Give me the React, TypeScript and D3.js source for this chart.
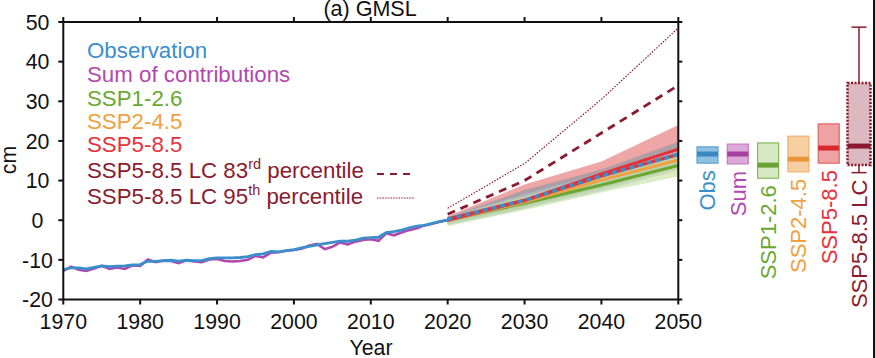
import React from "react";
import * as d3 from "d3";

// ---------- data ----------
const obsYears = d3.range(1970, 2021);
const obsValues = [
  -12.5, -12.0, -12.0, -12.3, -11.9, -11.5, -11.7, -11.6, -11.5, -11.3,
  -11.2, -10.3, -10.4, -10.2, -10.1, -10.3, -10.1, -10.2, -10.2, -9.7,
  -9.5, -9.5, -9.5, -9.4, -9.2, -8.7, -8.5, -7.9, -8.0, -7.7,
  -7.4, -7.0, -6.6, -6.2, -5.9, -5.6, -5.3, -5.3, -5.0, -4.5,
  -4.4, -4.3, -3.1, -2.9, -2.5, -1.9, -1.5, -1.3, -0.8, -0.3, 0.0,
];
const sumValues = [
  -12.8, -11.7, -12.5, -12.8, -12.2, -11.5, -12.3, -11.9, -12.3, -11.4,
  -11.5, -9.9, -10.6, -10.2, -10.3, -10.8, -10.1, -10.4, -10.6, -9.9,
  -9.8, -10.3, -10.4, -10.3, -10.0, -9.0, -9.4, -8.2, -8.1, -7.7,
  -7.5, -7.2, -6.4, -6.0, -7.3, -6.7, -5.6, -6.1, -5.4, -5.0,
  -4.8, -5.2, -3.3, -3.8, -3.1, -2.5, -2.0, -1.3, -0.9, -0.4, 0.0,
];

const projYears = [2020, 2030, 2040, 2050];
const ssp585Low = [-0.8, 3.5, 8.0, 13.5];
const ssp585High = [1.0, 9.0, 14.8, 24.0];
const ssp585Mid = [0.0, 5.0, 11.7, 17.9];
const sumBandLow = [-0.8, 3.2, 8.2, 13.5];
const sumBandHigh = [0.8, 7.6, 12.8, 19.8];
const obsBandLow = [-1.3, 2.8, 7.3, 12.7];
const obsBandHigh = [0.8, 6.6, 12.0, 18.4];
const ssp245Low = [-1.0, 3.0, 7.8, 12.4];
const ssp245High = [0.8, 6.4, 11.8, 17.8];
const ssp245Mid = [0.0, 4.6, 10.1, 15.2];
const ssp126Low = [-1.5, 2.6, 7.0, 11.0];
const ssp126High = [0.8, 6.0, 11.0, 16.5];
const ssp126Mid = [0.0, 4.3, 8.9, 13.8];
const trendMid = [0.3, 5.0, 11.2, 16.6];
const lc83 = [1.5, 10.0, 22.0, 34.0];
const lc95 = [3.0, 14.3, 30.5, 48.5];

const xTickValues = [1970, 1980, 1990, 2000, 2010, 2020, 2030, 2040, 2050];
const yTickValues = [-20, -10, 0, 10, 20, 30, 40, 50];

const boxLabels = ["Obs", "Sum", "SSP1-2.6", "SSP2-4.5", "SSP5-8.5", "SSP5-8.5 LC"];
const boxLow = [14.4, 14.2, 10.6, 12.2, 14.4, 13.9];
const boxHigh = [18.5, 19.2, 19.5, 21.2, 24.3, 34.6];
const boxMid = [16.7, 16.7, 13.9, 15.4, 18.2, 18.7];
const lcWhiskerLow = 12.0;
const lcWhiskerHigh = 48.7;

const legendLabels = ["Observation", "Sum of contributions", "SSP1-2.6", "SSP2-4.5", "SSP5-8.5"];

// ---------- styles ----------
const C = {
  obs: "#3a8fcb",
  sum: "#b347b0",
  ssp126: "#6aa832",
  ssp245: "#f0a040",
  ssp585: "#e8303a",
  lc: "#8b1a2e",
};
const legendColors = [C.obs, C.sum, C.ssp126, C.ssp245, C.ssp585, C.lc];
const boxFill = ["#8fc0e2", "#dca8d8", "#d6e9c4", "#f5cfa2", "#eea2a2", "#dcb9c1"];
const boxStroke = ["#5aa3d6", "#c67cc4", "#86bb58", "#f2b070", "#e86262", C.lc];
const boxMedian = ["#3a88c2", "#a8409f", "#6aa432", "#e8963a", "#d8282e", C.lc];

const FONT = "'Liberation Sans', Arial, Helvetica, sans-serif";

export default function App() {
  const W = 875;
  const H = 358;
  const x = d3.scaleLinear().domain([1970, 2050]).range([63.3, 678.3]);
  const y = d3.scaleLinear().domain([-20, 50]).range([299.5, 22]);
  const bx = d3.scalePoint<string>().domain(boxLabels).range([707.5, 859]);

  const line = d3
    .line<[number, number]>()
    .x((d) => x(d[0]))
    .y((d) => y(d[1]));
  const area = (lo: number[], hi: number[]) =>
    d3
      .area<number>()
      .x((d) => x(d))
      .y0((_, i) => y(lo[i]))
      .y1((_, i) => y(hi[i]))(projYears) as string;
  const proj = (vals: number[]) =>
    line(projYears.map((yr, i) => [yr, vals[i]] as [number, number])) as string;

  const [x0, x1] = x.range();
  const [yb, yt] = y.range();

  const legendY = [58, 82, 106, 129, 152];
  const LF = 22.3;

  return (
    <svg
      width={W}
      height={H}
      style={{ position: "absolute", left: 0, top: 0, background: "#fff" }}
      fontFamily={FONT}
    >
      <rect x={0} y={0} width={W} height={H} fill="#fff" />
      {/* title */}
      <text x={370} y={16} fontSize={21.5} textAnchor="middle" fill="#111">
        (a) GMSL
      </text>

      {/* bands */}
      <path d={area(ssp585Low, ssp585High)} fill="#eea6a6" />
      <path d={area(sumBandLow, sumBandHigh)} fill="#9c9aa6" fillOpacity={0.75} />
      <path d={area(ssp245Low, ssp245High)} fill="#f6c890" fillOpacity={0.45} />
      <path d={area(obsBandLow, obsBandHigh)} fill="#8cc4dc" fillOpacity={0.5} />
      <path d={area(ssp126Low, ssp126High)} fill="#c4e0a0" fillOpacity={0.6} />

      {/* projection medians */}
      <path d={proj(ssp126Mid)} fill="none" stroke={C.ssp126} strokeWidth={3} />
      <path d={proj(ssp245Mid)} fill="none" stroke={C.ssp245} strokeWidth={3} />
      <path d={proj(ssp585Mid)} fill="none" stroke={C.ssp585} strokeWidth={3} />
      <path d={proj(trendMid)} fill="none" stroke={C.ssp585} strokeWidth={3.5} />
      <path
        d={proj(trendMid)}
        fill="none"
        stroke={C.obs}
        strokeWidth={3.5}
        strokeDasharray="5,4"
      />
      <path d={proj(lc83)} fill="none" stroke={C.lc} strokeWidth={2.8} strokeDasharray="8,6" />
      <path d={proj(lc95)} fill="none" stroke={C.lc} strokeWidth={1.2} strokeDasharray="1.5,1.5" />

      {/* historical */}
      <path
        d={line(obsYears.map((yr, i) => [yr, sumValues[i]] as [number, number])) as string}
        fill="none"
        stroke={C.sum}
        strokeWidth={2.6}
      />
      <path
        d={line(obsYears.map((yr, i) => [yr, obsValues[i]] as [number, number])) as string}
        fill="none"
        stroke={C.obs}
        strokeWidth={2.8}
      />

      {/* frame */}
      <rect x={x0} y={yt} width={x1 - x0} height={yb - yt} fill="none" stroke="#111" strokeWidth={2} />
      {xTickValues.map((t) => (
        <g key={"xt" + t}>
          <line x1={x(t)} x2={x(t)} y1={yb} y2={yb + 5} stroke="#111" strokeWidth={2} />
          <line x1={x(t)} x2={x(t)} y1={yt} y2={yt - 5} stroke="#111" strokeWidth={2} />
          <text x={x(t)} y={329} fontSize={21.3} textAnchor="middle" fill="#111">
            {t}
          </text>
        </g>
      ))}
      {yTickValues.map((t) => (
        <g key={"yt" + t}>
          <line x1={x0} x2={x0 - 5} y1={y(t)} y2={y(t)} stroke="#111" strokeWidth={2} />
          <line x1={x1} x2={x1 + 4} y1={y(t)} y2={y(t)} stroke="#111" strokeWidth={2} />
          <text x={37.5} y={y(t)} dy="0.36em" fontSize={21.3} textAnchor="middle" fill="#111">
            {t}
          </text>
        </g>
      ))}
      <text x={371} y={355} fontSize={21.3} textAnchor="middle" fill="#111">
        Year
      </text>
      <text
        transform={`translate(16,160) rotate(-90)`}
        fontSize={21.3}
        textAnchor="middle"
        fill="#111"
      >
        cm
      </text>

      {/* legend */}
      {legendLabels.map((l, i) => (
        <text key={l} x={87} y={legendY[i]} fontSize={LF} fill={legendColors[i]}>
          {l}
        </text>
      ))}
      <text x={87} y={178} fontSize={LF} fill={C.lc}>
        SSP5-8.5 LC 83
        <tspan fontSize={14.5} dy={-9}>rd</tspan>
        <tspan dy={9}> percentile</tspan>
      </text>
      <text x={87} y={204} fontSize={LF} fill={C.lc}>
        SSP5-8.5 LC 95
        <tspan fontSize={14.5} dy={-9}>th</tspan>
        <tspan dy={9}> percentile</tspan>
      </text>
      <line x1={377} x2={415} y1={174} y2={174} stroke={C.lc} strokeWidth={2} strokeDasharray="7,6" />
      <line x1={377} x2={415} y1={198} y2={198} stroke={C.lc} strokeWidth={1.2} strokeDasharray="1.5,1.2" />

      {/* right-hand boxes */}
      {boxLabels.map((l, i) => {
        const cx = bx(l) as number;
        const isLC = i === boxLabels.length - 1;
        const w = isLC ? 23 : 21;
        const bottom = isLC ? y(lcWhiskerLow) : y(boxLow[i]);
        return (
          <g key={l}>
            {isLC && (
              <g stroke={C.lc} strokeWidth={1.5}>
                <line x1={cx} x2={cx} y1={y(lcWhiskerHigh)} y2={y(boxHigh[i])} />
                <line x1={cx - 7.5} x2={cx + 7.5} y1={y(lcWhiskerHigh)} y2={y(lcWhiskerHigh)} />
                <line x1={cx} x2={cx} y1={y(boxLow[i])} y2={y(lcWhiskerLow)} />
                <line x1={cx - 7.5} x2={cx + 7.5} y1={y(lcWhiskerLow)} y2={y(lcWhiskerLow)} />
              </g>
            )}
            <rect
              x={cx - w / 2}
              y={y(boxHigh[i])}
              width={w}
              height={y(boxLow[i]) - y(boxHigh[i])}
              fill={boxFill[i]}
              stroke={boxStroke[i]}
              strokeWidth={isLC ? 2.5 : 1.2}
              strokeDasharray={isLC ? "2,1.5" : undefined}
            />
            <line
              x1={cx - w / 2}
              x2={cx + w / 2}
              y1={y(boxMid[i])}
              y2={y(boxMid[i])}
              stroke={boxMedian[i]}
              strokeWidth={5}
            />
            <text
              transform={`translate(${cx},${bottom + 7}) rotate(-90)`}
              dy="0.36em"
              fontSize={22}
              textAnchor="end"
              fill={legendColors[i]}
            >
              {l}
            </text>
          </g>
        );
      })}
      <line x1={874} x2={874} y1={0} y2={H} stroke="#111" strokeWidth={2} />
    </svg>
  );
}
